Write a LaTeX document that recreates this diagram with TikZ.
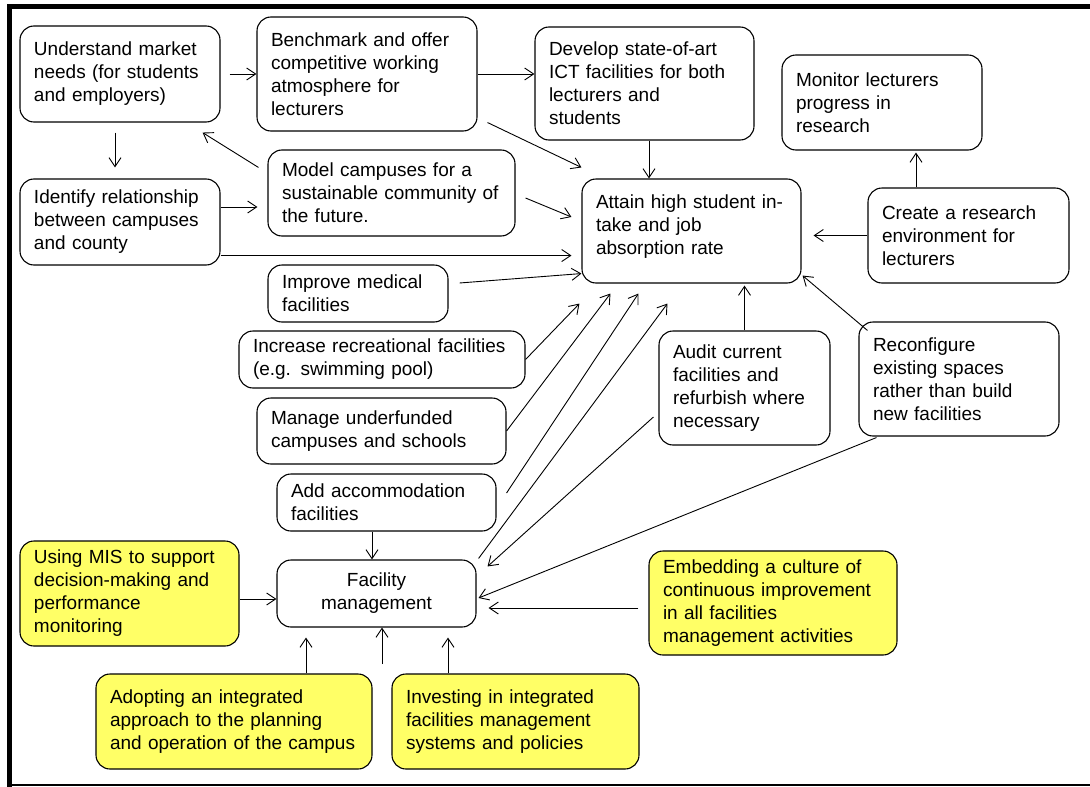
\documentclass[tikz,border=0pt]{standalone}
\usepackage{fontspec}
\setmainfont{Liberation Sans}
\usetikzlibrary{arrows.meta}
\definecolor{boxyellow}{RGB}{255,255,102}
\tikzset{
  box/.style={draw, line width=1.1pt, rounded corners=14pt, fill=white, align=left,
    inner xsep=14pt, inner ysep=0pt, font=\fontsize{19}{23}\selectfont},
  ybox/.style={box, fill=boxyellow},
  arr/.style={line width=0.9pt, -{Straight Barb[length=9pt,width=12pt]}},
}
\begin{document}
\begin{tikzpicture}[x=1pt,y=-1pt]
\useasboundingbox (0,0) rectangle (1090,787);
% frame
\fill (7,4) rectangle (1090,9);
\fill (7,4) rectangle (12,787);
\draw[line width=1.5pt] (7,785) -- (1090,785);

% nodes
\node[box, text width=172pt, minimum height=96pt] (und) at (120,74) {Understand market\\needs (for students\\and employers)};
\node[box, text width=192pt, minimum height=114pt] (bench) at (367,74) {Benchmark and offer\\competitive working\\atmosphere for\\lecturers};
\node[box, text width=191pt, minimum height=113pt] (dev) at (644.5,83.5) {Develop state-of-art\\ICT facilities for both\\lecturers and\\students};
\node[box, text width=172pt, minimum height=95pt] (mon) at (882,102.5) {Monitor lecturers\\progress in\\research};
\node[box, text width=172pt, minimum height=86pt] (ident) at (120,222) {Identify relationship\\between campuses\\and county};
\node[box, text width=219pt, minimum height=86pt] (model) at (391.5,193) {Model campuses for a\\sustainable community of\\the future.};
\node[box, text width=191pt, minimum height=104pt, text depth=58pt] (attain) at (691.5,231) {Attain high student in-\\take and job\\absorption rate};
\node[box, text width=173pt, minimum height=95pt] (create) at (968.5,235.5) {Create a research\\environment for\\lecturers};
\node[box, text width=152pt, minimum height=57pt] (improve) at (358,293.5) {Improve medical\\facilities};
\node[box, text width=258pt, minimum height=57pt] (increase) at (382,359.5) {Increase recreational facilities\\(e.g. swimming pool)};
\node[box, text width=221pt, minimum height=66pt] (manage) at (381.5,431) {Manage underfunded\\campuses and schools};
\node[box, text width=191pt, minimum height=57pt] (add) at (386.5,502.5) {Add accommodation\\facilities};
\node[box, text width=143pt, minimum height=114pt] (audit) at (744.5,388) {Audit current\\facilities and\\refurbish where\\necessary};
\node[box, text width=172pt, minimum height=114pt] (reconf) at (959,379) {Reconfigure\\existing spaces\\rather than build\\new facilities};
\node[box, align=center, text width=171pt, minimum height=67pt] (fm) at (376.5,593.5) {Facility\\management};
\node[ybox, text width=191pt, minimum height=105pt] (mis) at (129.5,593.5) {Using MIS to support\\decision-making and\\performance\\monitoring};
\node[ybox, text width=248pt, minimum height=95pt] (adopt) at (234,721.5) {Adopting an integrated\\approach to the planning\\and operation of the campus};
\node[ybox, text width=219pt, minimum height=95pt] (invest) at (515.5,721.5) {Investing in integrated\\facilities management\\systems and policies};
\node[ybox, text width=220pt, minimum height=104pt] (embed) at (773,603) {Embedding a culture of\\continuous improvement\\in all facilities\\management activities};
\coordinate (fmin) at (382,664);

% connectors
\draw[arr] ([shift={(9,0)}]und.east) -- (bench.west);
\draw[arr] (bench.east) -- (bench.east -| dev.west);
\draw[arr] ([shift={(-5,10)}]und.south) -- ([shift={(-5,-11)}]ident.north);
\draw[arr] ([shift={(-9,18)}]model.north west) -- ([shift={(-18,10)}]und.south east);
\draw[arr] ([shift={(0,-15)}]ident.east) -- ([shift={(-10,14)}]model.west);
\draw[arr] ([shift={(0,-10)}]ident.south east) -- ([shift={(-10,-28)}]attain.south west);
\draw[arr] ([shift={(10,-9)}]bench.south east) -- ([shift={(0,-11)}]attain.north west);
\draw[arr] ([shift={(10,5)}]model.east) -- ([shift={(-10,-14)}]attain.west);
\draw[arr] ([shift={(4.5,0)}]dev.south) -- ([shift={(-42.5,0)}]attain.north);
\draw[arr] ([shift={(-52.5,0)}]create.north) -- ([shift={(34,2)}]mon.south);
\draw[arr] (create.west) -- ([shift={(12,4.5)}]attain.east);
\draw[arr] ([shift={(11,-10.5)}]improve.east) -- ([shift={(0,-10)}]attain.south west);
\draw[arr] (increase.east) -- ([shift={(-2,20)}]attain.south west);
\draw[arr] (manage.east) -- ([shift={(29,10)}]attain.south west);
\draw[arr] ([shift={(10,-9.5)}]add.east) -- ([shift={(57,10)}]attain.south west);
\draw[arr] ([shift={(2,-1)}]fm.north east) -- ([shift={(86,20)}]attain.south west);
\draw[arr] (audit.north) -- ([shift={(53,2)}]attain.south);
\draw[arr] ([shift={(9,9)}]reconf.north west) -- ([shift={(1,-8)}]attain.south east);
\draw[arr] ([shift={(-5,29)}]audit.west) -- ([shift={(11,7)}]fm.north east);
\draw[arr] ([shift={(18,1)}]reconf.south west) -- ([shift={(2,4.5)}]fm.east);
\draw[arr] ([shift={(-10,5)}]embed.west) -- ([shift={(12,14.5)}]fm.east);
\draw[arr] ([shift={(-14.5,0)}]add.south) -- ([shift={(-4.5,0)}]fm.north);
\draw[arr] ([shift={(0,5.5)}]mis.east) -- ([shift={(0,5.5)}]fm.west);
\draw[arr] ([shift={(72,0)}]adopt.north) -- ([shift={(-70.5,10)}]fm.south);
\draw[arr] (fmin) -- ([shift={(5.5,0)}]fm.south);
\draw[arr] ([shift={(-67.5,0)}]invest.north) -- ([shift={(71.5,10)}]fm.south);
\end{tikzpicture}
\end{document}
